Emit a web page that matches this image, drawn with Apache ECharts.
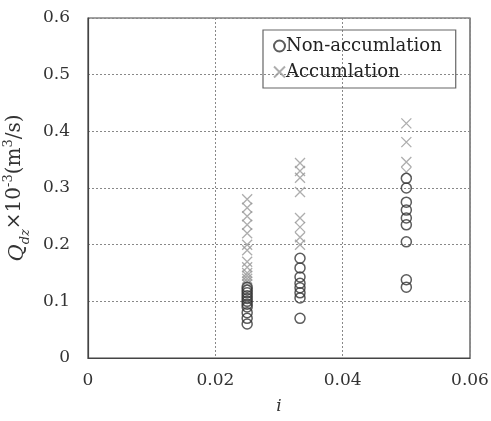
<!DOCTYPE html>
<html><head><meta charset="utf-8">
<script src="https://cdn.jsdelivr.net/npm/echarts@6/dist/echarts.min.js"></script>
<style>html,body{margin:0;padding:0;background:#fff}#c{width:491px;height:421px}</style>
</head><body><div id="c"></div>
<script>
// slopes i (x categories)
const slopes = [0.025, 0.0333, 0.05];
// Non-accumulation Q values per slope
const nonAcc025 = [0.125, 0.12, 0.115, 0.11, 0.105, 0.10, 0.095, 0.09, 0.08, 0.07, 0.06];
const nonAcc033 = [0.176, 0.159, 0.143, 0.132, 0.124, 0.115, 0.106, 0.07];
const nonAcc050 = [0.317, 0.30, 0.275, 0.261, 0.247, 0.235, 0.205, 0.138, 0.125];
// Accumulation Q values per slope
const acc025 = [0.28, 0.265, 0.25, 0.235, 0.22, 0.20, 0.19, 0.17, 0.16, 0.15, 0.145, 0.14, 0.135, 0.13];
const acc033 = [0.344, 0.33, 0.318, 0.293, 0.247, 0.231, 0.213, 0.20];
const acc050 = [0.414, 0.381, 0.346, 0.328];
const xTicks = [0, 0.02, 0.04, 0.06];
const yTicks = [0, 0.1, 0.2, 0.3, 0.4, 0.5, 0.6];

function pts(x, arr){ return arr.map(v => [x, v]); }
const nonAccData = [].concat(pts(slopes[0], nonAcc025), pts(slopes[1], nonAcc033), pts(slopes[2], nonAcc050));
const accData = [].concat(pts(slopes[0], acc025), pts(slopes[1], acc033), pts(slopes[2], acc050));

const font = 'DejaVu Serif';
const chart = echarts.init(document.getElementById('c'));
chart.setOption({
  animation: false,
  backgroundColor: '#fff',
  grid: { left: 88, right: 21, top: 18, bottom: 63, show: true, borderColor: '#444', borderWidth: 1.2,
    containLabel: false, outerBoundsMode: 'none' },
  legend: {
    left: 263, top: 30, orient: 'vertical',
    borderColor: '#666', borderWidth: 1.2, padding: [7, 14, 7, 10],
    itemGap: 8, itemWidth: 11, itemHeight: 11,
    textStyle: { fontFamily: font, fontSize: 18, color: '#222', padding: [0, 0, 0, -4] },
    data: [
      { name: 'Non-accumlation' },
      { name: 'Accumlation' }
    ]
  },
  xAxis: {
    type: 'value', min: 0, max: 0.06, interval: 0.02,
    name: 'i', nameLocation: 'middle', nameGap: 40,
    nameTextStyle: { fontFamily: font, fontStyle: 'italic', fontSize: 17, color: '#333' },
    axisLine: { show: true, onZero: false, lineStyle: { color: '#444', width: 1.2 } },
    axisTick: { show: false },
    axisLabel: { fontFamily: font, fontSize: 17, color: '#333', margin: 14,
      formatter: v => v === 0 ? '0' : v.toFixed(2) },
    splitLine: { show: true, lineStyle: { color: '#888', type: [2, 2], width: 1 } }
  },
  yAxis: {
    type: 'value', min: 0, max: 0.6, interval: 0.1,
    name: '{q|Q}{sub|dz}×10{sup|-3}(m{sup|3}/s)', nameLocation: 'middle', nameGap: 57, nameRotate: 90,
    nameTextStyle: {
      fontFamily: font, fontSize: 20, color: '#333', lineHeight: 26,
      rich: {
        q: { fontFamily: font, fontStyle: 'italic', fontSize: 21, color: '#333', lineHeight: 26, verticalAlign: 'bottom' },
        sub: { fontFamily: font, fontStyle: 'italic', fontSize: 13, color: '#333', verticalAlign: 'bottom', lineHeight: 26, padding: [0, 0, -4, 0] },
        sup: { fontFamily: font, fontSize: 13, color: '#333', verticalAlign: 'top', lineHeight: 26 }
      }
    },
    axisLine: { show: true, lineStyle: { color: '#444', width: 1.2 } },
    axisTick: { show: false },
    axisLabel: { fontFamily: font, fontSize: 17, color: '#333', margin: 18,
      formatter: v => v === 0 ? '0' : v.toFixed(1) },
    splitLine: { show: true, lineStyle: { color: '#888', type: [2, 2], width: 1 } }
  },
  series: [
    {
      name: 'Non-accumlation', type: 'scatter', data: nonAccData,
      symbol: 'circle', symbolSize: 10,
      itemStyle: { color: 'rgba(255,255,255,0)', borderColor: '#333', borderWidth: 1.5 },
      z: 3
    },
    {
      name: 'Accumlation', type: 'scatter', data: accData,
      symbol: 'path://M0,0L10,10M10,0L0,10', symbolSize: 10,
      itemStyle: { color: 'rgba(255,255,255,0)', borderColor: '#999', borderWidth: 1.3 },
      z: 2
    }
  ]
});
</script></body></html>
